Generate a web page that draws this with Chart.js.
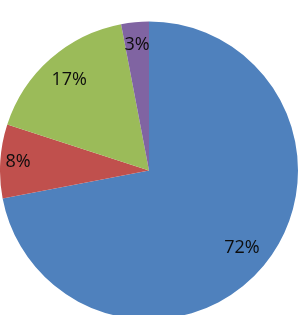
<!DOCTYPE html>
<html>
<head>
<meta charset="utf-8">
<script src="https://cdn.jsdelivr.net/npm/chart.js@4/dist/chart.umd.min.js"></script>
<style>
    html, body { margin: 0; padding: 0; background: #fff; overflow: hidden; }
    #wrap { width: 299px; height: 315px; overflow: hidden; }
</style>
</head>
<body>
<div id="wrap"><canvas id="pieChart" width="299" height="320"></canvas></div>
<script>
// slices, clockwise from 12 o'clock
const categories = ['A', 'B', 'C', 'D'];
const shares = [72, 8, 17, 3];
const sliceColors = ['#4F81BD', '#C0504D', '#9BBB59', '#8064A2'];

// how far out each label sits (fraction of the radius)
const labelRadius = [0.81, 0.88, 0.81, 0.85];

const pctLabels = {
    id: 'pctLabels',
    afterDatasetsDraw: function(chart) {
        const ctx = chart.ctx;
        const meta = chart.getDatasetMeta(0);
        const total = shares.reduce(function(a, b) { return a + b; }, 0);
        ctx.save();
        ctx.font = '18px "Open Sans"';
        ctx.fillStyle = '#0d0d0d';
        ctx.textAlign = 'center';
        ctx.textBaseline = 'middle';
        meta.data.forEach(function(arc, i) {
            const p = arc.getProps(['x', 'y', 'startAngle', 'endAngle', 'outerRadius'], true);
            const mid = (p.startAngle + p.endAngle) / 2;
            const r = p.outerRadius * labelRadius[i];
            const txt = Math.round(shares[i] / total * 100) + '%';
            ctx.fillText(txt, p.x + Math.cos(mid) * r, p.y + Math.sin(mid) * r);
        });
        ctx.restore();
    }
};

const ctx = document.getElementById('pieChart');
const myChart = new Chart(ctx, {
    type: 'pie',
    data: {
        labels: categories,
        datasets: [{
            data: shares,
            backgroundColor: sliceColors,
            borderWidth: 0
        }]
    },
    options: {
        responsive: false,
        animation: false,
        layout: {
            padding: { top: 21, bottom: 0, left: 0, right: 1 }
        },
        plugins: {
            legend: { display: false },
            tooltip: { enabled: false }
        }
    },
    plugins: [pctLabels]
});
</script>
</body>
</html>
